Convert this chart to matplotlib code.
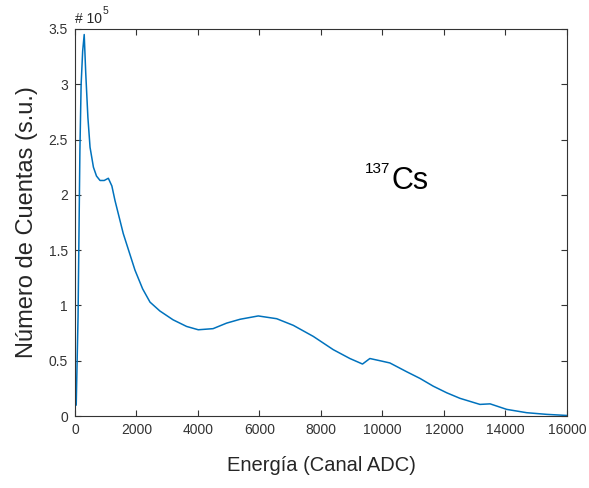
import matplotlib
matplotlib.use("Agg")
import matplotlib.pyplot as plt
import numpy as np

plt.rcParams['font.family'] = ['Liberation Sans', 'DejaVu Sans']

# espectro 137Cs (x: canal ADC, y: cuentas en unidades de 1e5)
canal = [40, 100, 160, 200, 250, 300, 350, 420, 490, 600, 700, 815, 950, 1085,
         1200, 1300, 1570, 1950, 2200, 2440, 2760, 3190, 3630, 4010, 4490,
         4930, 5370, 5960, 6560, 7100, 7750, 8400, 8940, 9270, 9350, 9590,
         9920, 10240, 10790, 11220, 11650, 12090, 12520, 13170, 13500, 14040,
         14690, 15340, 16000]
cuentas = [0.10, 0.9, 2.4, 3.0, 3.3, 3.45, 3.1, 2.7, 2.43, 2.25, 2.17, 2.13,
           2.13, 2.15, 2.08, 1.95, 1.65, 1.32, 1.15, 1.03, 0.95, 0.87, 0.81,
           0.78, 0.79, 0.84, 0.875, 0.905, 0.88, 0.82, 0.72, 0.60, 0.52, 0.48,
           0.47, 0.52, 0.50, 0.48, 0.40, 0.34, 0.27, 0.21, 0.16, 0.105, 0.11,
           0.06, 0.03, 0.015, 0.005]

xticks = np.arange(0, 16001, 2000)
yticks = [0, 0.5, 1, 1.5, 2, 2.5, 3, 3.5]
ytick_labels = ['0', '0.5', '1', '1.5', '2', '2.5', '3', '3.5']

fig = plt.figure(figsize=(5.89, 4.88), dpi=100)
ax = fig.add_axes([0.1273, 0.1475, 0.8353, 0.7931])

ax.plot(canal, cuentas, color='#0072BD', lw=1.1)

ax.set_xlim(0, 16000)
ax.set_ylim(0, 3.5)
ax.set_xticks(xticks)
ax.set_xticklabels([str(t) for t in xticks])
ax.set_yticks(yticks)
ax.set_yticklabels(ytick_labels)

ax.tick_params(direction='in', top=True, right=True, length=4, width=0.8,
               labelsize=10, colors='#333333', pad=5)
for s in ax.spines.values():
    s.set_color('#333333')
    s.set_linewidth(0.8)

ax.set_xlabel('Energía (Canal ADC)', fontsize=14.5, color='#262626', labelpad=14)
ax.set_ylabel('Número de Cuentas (s.u.)', fontsize=17, color='#262626', labelpad=8)

ax.text(0.0, 1.008, '# 10', transform=ax.transAxes, fontsize=10,
        color='#262626', ha='left', va='bottom')
ax.text(0.057, 1.033, '5', transform=ax.transAxes, fontsize=7.5,
        color='#262626', ha='left', va='bottom')

# etiqueta del isotopo
ax.text(9430, 2.2, '137', fontsize=11, color='black', ha='left', va='baseline')
ax.text(10280, 2.05, 'Cs', fontsize=22, color='black', ha='left', va='baseline')

fig.savefig('out.png', dpi=100)
